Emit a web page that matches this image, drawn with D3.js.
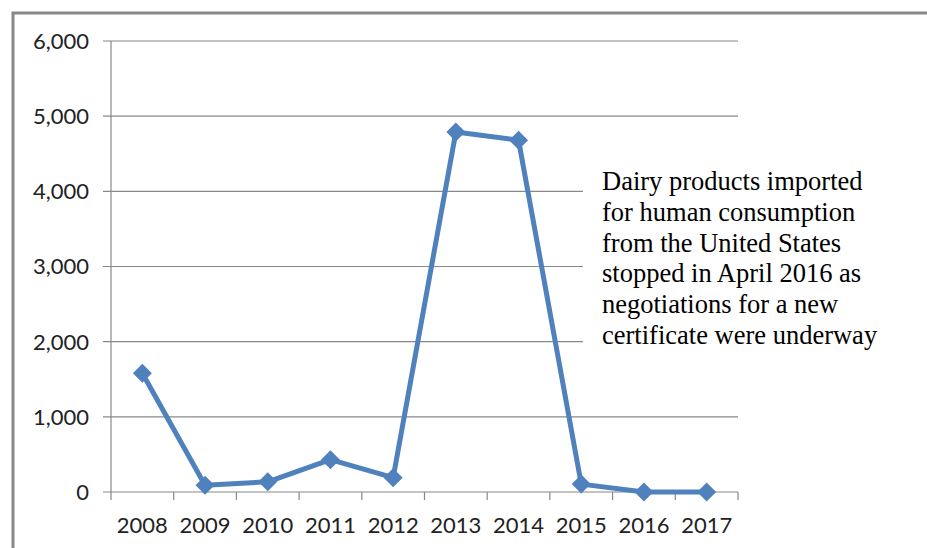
<!DOCTYPE html>
<html><head><meta charset="utf-8">
<script src="https://cdn.jsdelivr.net/npm/d3@7"></script>
<style>body{margin:0;background:#fff}svg{display:block}</style>
</head><body>
<svg id="c" width="927" height="548"></svg>
<script>
const years = ["2008","2009","2010","2011","2012","2013","2014","2015","2016","2017"];
const values = [1580, 90, 135, 430, 190, 4790, 4680, 105, 0, 0];
const yTicks = [0, 1000, 2000, 3000, 4000, 5000, 6000];
const noteLines = ["Dairy products imported","for human consumption","from the United States","stopped in April 2016 as","negotiations for a new","certificate were underway"];

const svg = d3.select("#c");
const L = 111, R = 738, T = 41, B = 492;
// outer frame
svg.append("path").attr("d","M13,548 V13 H927").attr("fill","none").attr("stroke","#888").attr("stroke-width",3);

const x = d3.scaleBand().domain(years).range([L, R]);
const y = d3.scaleLinear().domain([0, 6000]).range([B, T]);

// gridlines
svg.append("g").selectAll("line").data(yTicks).join("line")
  .attr("x1", L - 8).attr("x2", R).attr("y1", d => y(d)).attr("y2", d => y(d))
  .attr("stroke", "#888").attr("stroke-width", 1.2);
// y axis line
svg.append("line").attr("x1", L).attr("x2", L).attr("y1", T).attr("y2", B).attr("stroke","#888").attr("stroke-width",1.2);
// y labels
svg.append("g").selectAll("text").data(yTicks).join("text")
  .attr("x", 89).attr("y", d => y(d)).attr("dy","0.36em").attr("text-anchor","end")
  .attr("font-family","Lato, 'Open Sans', sans-serif").attr("font-size",22).attr("fill","#222")
  .text(d => d3.format(",")(d));
// x ticks at band boundaries
const bounds = years.map(d => x(d)).concat([R]);
svg.append("g").selectAll("line").data(bounds).join("line")
  .attr("x1", d => d).attr("x2", d => d).attr("y1", B).attr("y2", B + 8)
  .attr("stroke","#888").attr("stroke-width",1.2);
svg.append("g").selectAll("text").data(years).join("text")
  .attr("x", d => x(d) + x.bandwidth()/2).attr("y", 533).attr("text-anchor","middle")
  .attr("font-family","Lato, 'Open Sans', sans-serif").attr("font-size",22).attr("fill","#222")
  .text(d => d);

// line
const cx = d => x(d) + x.bandwidth()/2;
const line = d3.line().x((d,i) => cx(years[i])).y(d => y(d));
svg.append("path").datum(values).attr("d", line).attr("fill","none")
  .attr("stroke","#4F81BD").attr("stroke-width",5).attr("stroke-linejoin","round");
svg.append("g").selectAll("path").data(values).join("path")
  .attr("transform",(d,i) => `translate(${cx(years[i])},${y(d)})`)
  .attr("d", d3.symbol().type(d3.symbolDiamond2).size(230))
  .attr("fill","#4F81BD");

// note box
svg.append("rect").attr("x",583).attr("y",160).attr("width",344).attr("height",200).attr("fill","#fff");
svg.append("g").selectAll("text").data(noteLines).join("text")
  .attr("x", 602).attr("y",(d,i) => 190 + i*30.8)
  .attr("font-family","'Liberation Serif', 'Times New Roman', serif").attr("font-size",26.5).attr("fill","#000")
  .text(d => d);
</script>
</body></html>
